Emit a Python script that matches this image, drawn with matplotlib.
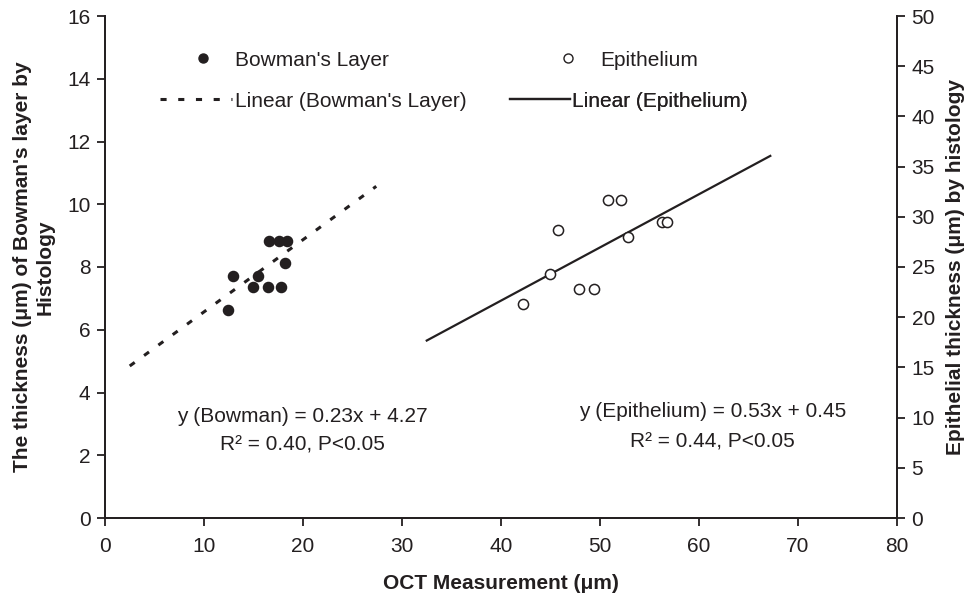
import numpy as np
import matplotlib
matplotlib.use("Agg")
import matplotlib.pyplot as plt
from matplotlib.lines import Line2D

plt.rcParams['font.family'] = ['Liberation Sans', 'DejaVu Sans']
plt.rcParams['font.size'] = 15

# Data
bow_x = [12.4, 12.9, 14.9, 15.5, 16.5, 16.6, 17.6, 17.8, 18.2, 18.4]
bow_y = [6.63, 7.71, 7.36, 7.71, 7.36, 8.83, 8.83, 7.36, 8.13, 8.83]
epi_x = [42.2, 45.0, 45.8, 47.9, 49.4, 50.8, 52.1, 52.8, 56.3, 56.8]
epi_y = [21.3, 24.3, 28.7, 22.8, 22.8, 31.7, 31.7, 28.0, 29.5, 29.5]

# Trendlines (slope, intercept) and drawn range
bow_fit = [0.23, 4.27]
bow_range = [2.5, 27.4]
epi_fit = [0.53, 0.45]
epi_range = [32.5, 67.2]

INK = '#231f20'

fig = plt.figure(figsize=(9.7, 5.95), dpi=100)
ax = fig.add_axes([105/970, 77/595, 792/970, 502/595])
ax2 = ax.twinx()

# Bowman on left axis
xb = np.linspace(*bow_range, 50)
ax.plot(xb, bow_fit[0]*xb + bow_fit[1], color=INK, lw=2.2,
        dashes=(2, 3.8), dash_capstyle='butt')
ax.plot(bow_x, bow_y, 'o', color=INK, ms=7.3, zorder=3)

# Epithelium on right axis
xe = np.linspace(*epi_range, 50)
ax2.plot(xe, epi_fit[0]*xe + epi_fit[1], color=INK, lw=1.6)
ax2.plot(epi_x, epi_y, 'o', mfc='white', mec=INK, mew=1.1, ms=7.3, zorder=3)

ax.set_xlim(0, 80)
ax.set_ylim(0, 16)
ax2.set_ylim(0, 50)
ax.set_xticks(range(0, 81, 10))
ax.set_yticks(range(0, 17, 2))
ax2.set_yticks(range(0, 51, 5))

for a in (ax, ax2):
    a.spines['top'].set_visible(False)
    for s in a.spines.values():
        s.set_linewidth(1.3)
        s.set_color(INK)
    a.tick_params(direction='out', length=5.5, width=1.3, color=INK,
                  labelsize=15, labelcolor=INK, pad=5)
ax.tick_params(axis='x', pad=8)

ax.set_xlabel("OCT Measurement (μm)", fontweight='bold', fontsize=15, color=INK)
ax.xaxis.set_label_coords(0.5, -0.112)
ax.set_ylabel("The thickness (μm) of Bowman's layer by\nHistology", fontweight='bold',
              fontsize=15, color=INK, linespacing=1.2)
ax.yaxis.set_label_coords(-0.064, 0.5)
ax2.set_ylabel("Epithelial thickness (μm) by histology", fontweight='bold',
               fontsize=15, color=INK)
ax2.yaxis.set_label_coords(1.062, 0.5)

# Fit annotations
ax.text(19.9, 3.22, "y (Bowman) = 0.23x + 4.27", ha='center', va='center', color=INK)
ax.text(19.9, 2.33, "R² = 0.40, P<0.05", ha='center', va='center', color=INK)
ax.text(61.4, 3.41, "y (Epithelium) = 0.53x + 0.45", ha='center', va='center', color=INK)
ax.text(61.4, 2.42, "R² = 0.44, P<0.05", ha='center', va='center', color=INK)

# Legend: four single-entry legends placed like the original
def add_entry(handle, label, x_px, y_px, hlen, pad):
    lg = ax2.legend([handle], [label], loc='center left', frameon=False,
                    bbox_to_anchor=(x_px/970, 1 - y_px/595), bbox_transform=fig.transFigure,
                    borderpad=0, borderaxespad=0, handlelength=hlen, handletextpad=pad,
                    fontsize=15, labelcolor=INK)
    ax2.add_artist(lg)

h_bow = Line2D([], [], ls='none', marker='o', color=INK, ms=6.5)
h_epi = Line2D([], [], ls='none', marker='o', mfc='white', mec=INK, ms=6.5)
h_bowl = Line2D([], [], color=INK, lw=2.2, dashes=(2, 3.8), dash_capstyle='butt')
h_epil = Line2D([], [], color=INK, lw=1.6)
add_entry(h_bow, "Bowman's Layer", 182, 60, 2.0, 0.55)
add_entry(h_epi, "Epithelium", 547, 60, 2.0, 0.55)
add_entry(h_bowl, "Linear (Bowman's Layer)", 160, 101, 3.46, 0.15)
add_entry(h_epil, "Linear (Epithelium)", 510, 101, 2.88, 0.1)

fig.savefig("out.png", dpi=100)
